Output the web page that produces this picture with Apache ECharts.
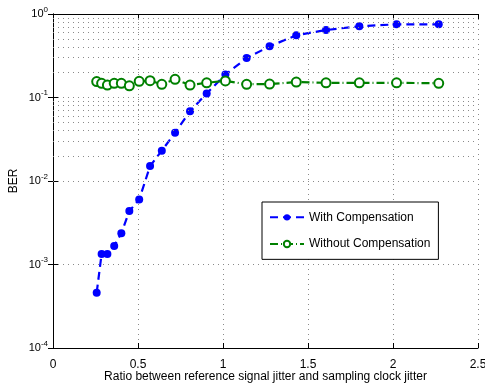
<html>
  <head>
    <script src="https://cdn.jsdelivr.net/npm/echarts@6/dist/echarts.min.js"></script>
    <title>BER vs jitter ratio</title>
  </head>
  <body style="margin:0; background-color:#ffffff;">
    <div id="chart" style="width:485px; height:383px;"></div>
    <script>
      // ratio between reference signal jitter and sampling clock jitter
      const ratio = [0.257, 0.286, 0.32, 0.36, 0.402, 0.449, 0.507, 0.571, 0.64, 0.718, 0.806, 0.904, 1.014, 1.139, 1.274, 1.431, 1.606, 1.802, 2.021, 2.269]
      const withComp = [4.6e-4, 1.34e-3, 1.34e-3, 1.67e-3, 2.36e-3, 4.37e-3, 6.0e-3, 1.51e-2, 2.31e-2, 3.79e-2, 6.83e-2, 0.112, 0.188, 0.297, 0.41, 0.556, 0.643, 0.713, 0.752, 0.752]
      const withoutComp = [0.155, 0.148, 0.141, 0.148, 0.148, 0.138, 0.156, 0.159, 0.144, 0.165, 0.141, 0.15, 0.158, 0.144, 0.145, 0.153, 0.15, 0.15, 0.15, 0.148]
      const seriesNames = ['With Compensation', 'Without Compensation']

      // minor grid lines for the log axis (2..9 x 10^k)
      const minorLines = []
      for (let k = -4; k < 0; k++) {
        for (let m = 2; m <= 9; m++) minorLines.push({ yAxis: m * Math.pow(10, k) })
      }

      const font = 'Liberation Sans, Arial, sans-serif'
      const dotted = { color: '#8a8a8a', type: [1, 4], width: 1 }

      const chart = echarts.init(document.getElementById('chart'))
      const option = {
        backgroundColor: '#ffffff',
        animation: false,
        textStyle: { fontFamily: font },
        grid: { left: 53, right: 7, top: 14, bottom: 35, outerBoundsMode: 'none', containLabel: false },
        legend: {
          left: 262, top: 202,
          orient: 'vertical',
          backgroundColor: '#ffffff',
          borderColor: '#000000', borderWidth: 1,
          padding: [5, 8, 5, 7],
          itemGap: 6,
          itemWidth: 34, itemHeight: 8,
          textStyle: { fontSize: 12, lineHeight: 14, color: '#000', fontFamily: font },
          data: seriesNames
        },
        xAxis: [
          {
            type: 'value', min: 0, max: 2.5, interval: 0.5,
            name: 'Ratio between reference signal jitter and sampling clock jitter',
            nameLocation: 'middle', nameGap: 18, nameMoveOverlap: false,
            nameTextStyle: { fontSize: 12, color: '#000' },
            axisLine: { lineStyle: { color: '#000', width: 1 } },
            axisTick: { inside: true, length: 5, lineStyle: { color: '#000' } },
            axisLabel: { fontSize: 12, color: '#000', margin: 6 },
            splitLine: { show: true, lineStyle: dotted }
          },
          {
            type: 'value', min: 0, max: 2.5, interval: 0.5, position: 'top',
            axisLine: { lineStyle: { color: '#000', width: 1 } },
            axisTick: { inside: true, length: 5, lineStyle: { color: '#000' } },
            axisLabel: { show: false }, splitLine: { show: false }
          }
        ],
        yAxis: [
          {
            type: 'log', logBase: 10, min: 1e-4, max: 1,
            name: 'BER', nameLocation: 'middle', nameGap: 29, nameRotate: 90, nameMoveOverlap: false,
            nameTextStyle: { fontSize: 12, color: '#000' },
            axisLine: { show: true, lineStyle: { color: '#000', width: 1 } },
            axisTick: { inside: true, length: 5, lineStyle: { color: '#000' } },
            axisLabel: {
              color: '#000', margin: 5,
              formatter: v => '{b|10}{s|' + Math.round(Math.log10(v)) + '}',
              rich: {
                b: { fontSize: 11, fontFamily: font, color: '#000' },
                s: { fontSize: 8, fontFamily: font, color: '#000', padding: [0, 0, 9, 0] }
              }
            },
            splitLine: { show: true, lineStyle: dotted }
          },
          {
            type: 'log', logBase: 10, min: 1e-4, max: 1, position: 'right',
            axisLine: { show: true, lineStyle: { color: '#000', width: 1 } },
            axisTick: { inside: true, length: 5, lineStyle: { color: '#000' } },
            axisLabel: { show: false }, splitLine: { show: false }
          }
        ],
        series: [
          {
            type: 'line', name: 'grid', data: [], silent: true,
            markLine: {
              silent: true, symbol: 'none', animation: false,
              label: { show: false },
              lineStyle: dotted,
              data: minorLines
            }
          },
          {
            name: seriesNames[0], type: 'line',
            data: ratio.map((x, i) => [x, withComp[i]]),
            symbol: 'circle', symbolSize: 8,
            itemStyle: { color: '#0000ff' },
            lineStyle: { color: '#0000ff', width: 2.2, type: [8, 5] },
            z: 3
          },
          {
            name: seriesNames[1], type: 'line',
            data: ratio.map((x, i) => [x, withoutComp[i]]),
            symbol: 'circle', symbolSize: 9,
            itemStyle: { color: '#ffffff', borderColor: '#008000', borderWidth: 2 },
            lineStyle: { color: '#008000', width: 2.2, type: [8, 3, 1, 3] },
            z: 4
          }
        ]
      }
      chart.setOption(option)
    </script>
  </body>
</html>
